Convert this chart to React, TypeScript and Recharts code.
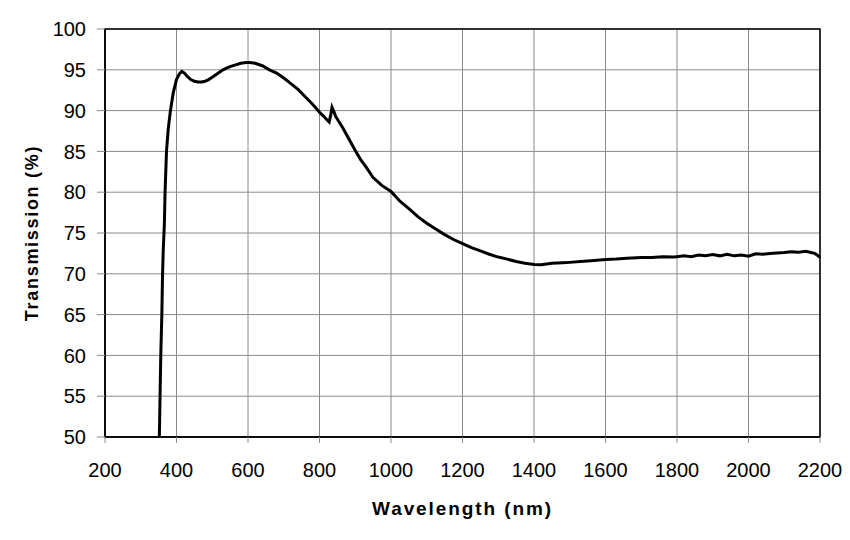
import { LineChart, Line, XAxis, YAxis, CartesianGrid, ReferenceArea } from "recharts";

// wavelength (nm) and transmission (%)
const wavelengths = [
  352, 354, 356, 359, 361, 363, 366, 368, 372, 377, 383, 391, 400, 408, 415, 422, 430, 440, 450, 460, 470,
  480, 490, 500, 510, 520, 530, 540, 550, 565, 580, 595, 605, 620, 640, 660, 680, 700, 720, 740, 760,
  780, 800, 812, 820, 827, 832, 835, 840, 845, 855, 865, 875, 885, 900, 915, 930, 950, 975, 1000,
  1025, 1050, 1075, 1100, 1125, 1150, 1175, 1200, 1225, 1250, 1275, 1300, 1325, 1350, 1375, 1400, 1420,
  1450, 1480, 1500, 1530, 1560, 1600, 1630, 1660, 1700, 1730, 1760, 1790, 1800, 1820, 1840, 1860,
  1880, 1900, 1920, 1940, 1960, 1980, 2000, 2020, 2040, 2060, 2080, 2100, 2120, 2140, 2160, 2175,
  2185, 2192, 2200,
];
const transmission = [
  50, 55, 60, 65, 70, 73, 76, 80, 85, 87.8, 90, 92.2, 93.8, 94.5, 94.8, 94.6, 94.2, 93.8, 93.6, 93.5,
  93.5, 93.6, 93.8, 94.1, 94.4, 94.7, 95.0, 95.2, 95.4, 95.6, 95.8, 95.9, 95.9, 95.8, 95.5, 95.0, 94.6,
  94.0, 93.3, 92.6, 91.7, 90.8, 89.8, 89.3, 88.9, 88.6, 89.6, 90.4, 89.9, 89.3, 88.6, 87.9, 87.1, 86.3,
  85.1, 84.0, 83.1, 81.8, 80.8, 80.1, 78.9, 78.0, 77.0, 76.2, 75.5, 74.8, 74.2, 73.7, 73.2, 72.8, 72.4,
  72.05, 71.8, 71.5, 71.3, 71.15, 71.1, 71.3, 71.35, 71.4, 71.5, 71.6, 71.75, 71.8, 71.9, 72.0, 72.0,
  72.1, 72.05, 72.1, 72.2, 72.1, 72.3, 72.2, 72.35, 72.2, 72.4, 72.2, 72.3, 72.15, 72.45, 72.4, 72.5,
  72.55, 72.6, 72.7, 72.65, 72.75, 72.6, 72.5, 72.3, 72.0, 71.6,
];
const xTicks = [200, 400, 600, 800, 1000, 1200, 1400, 1600, 1800, 2000, 2200];
const yTicks = [50, 55, 60, 65, 70, 75, 80, 85, 90, 95, 100];

const data = wavelengths.map((w, i) => ({ w, t: transmission[i] }));

const font = "'Liberation Sans', Arial, sans-serif";

export default function App() {
  return (
    <div style={{ position: "absolute", left: 0, top: 0, background: "#fff", fontFamily: font }}>
      <LineChart width={850} height={540} data={data} margin={{ top: 29, right: 30, bottom: 43, left: 45 }}>
        <CartesianGrid stroke="#8a8a8a" strokeWidth={1} />
        <XAxis
          dataKey="w"
          type="number"
          domain={[200, 2200]}
          ticks={xTicks}
          interval={0}
          height={60}
          tickSize={6}
          tickMargin={20}
          axisLine={{ stroke: "#000", strokeWidth: 1.5 }}
          tickLine={{ stroke: "#8a8a8a" }}
          tick={{ fill: "#000", fontSize: 20, fontFamily: font }}
          label={{
            value: "Wavelength (nm)",
            position: "insideBottom",
            offset: -18,
            style: { fill: "#000", fontSize: 19, fontWeight: "bold", fontFamily: font, letterSpacing: 1.9 },
          }}
        />
        <YAxis
          type="number"
          domain={[50, 100]}
          ticks={yTicks}
          interval={0}
          width={60}
          tickSize={8}
          tickMargin={11}
          axisLine={{ stroke: "#000", strokeWidth: 1.5 }}
          tickLine={{ stroke: "#8a8a8a" }}
          tick={{ fill: "#000", fontSize: 20, fontFamily: font }}
          label={{
            value: "Transmission (%)",
            angle: -90,
            position: "insideLeft",
            offset: -13,
            style: { textAnchor: "middle", fill: "#000", fontSize: 18, fontWeight: "bold", fontFamily: font, letterSpacing: 1.7 },
          }}
        />
        <ReferenceArea x1={200} x2={2200} y1={50} y2={100} fill="none" stroke="#000" strokeWidth={1.5} ifOverflow="visible" />
        <Line
          type="linear"
          dataKey="t"
          stroke="#000"
          strokeWidth={3}
          dot={false}
          isAnimationActive={false}
        />
      </LineChart>
    </div>
  );
}
